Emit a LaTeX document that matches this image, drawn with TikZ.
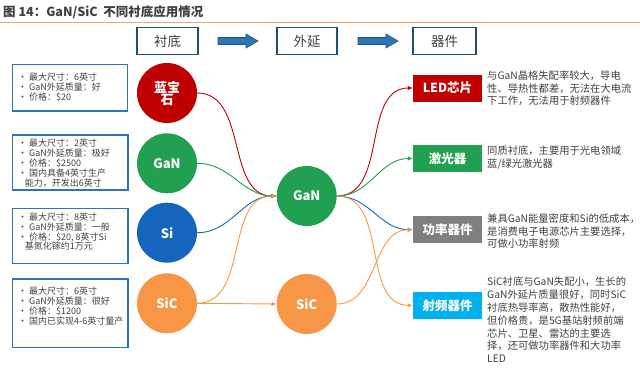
\documentclass[tikz,border=0pt]{standalone}
\usepackage{fontspec}
\setmainfont{Noto Sans CJK SC}
\usetikzlibrary{arrows.meta,calc}
\definecolor{cred}{HTML}{C00000}
\definecolor{cgreen}{HTML}{20A050}
\definecolor{cblue}{HTML}{1565BF}
\definecolor{corange}{HTML}{F79646}
\definecolor{cgrey}{HTML}{7F7F7F}
\definecolor{ccyan}{HTML}{00B0F0}
\definecolor{ctext}{HTML}{404040}
\definecolor{cframe}{HTML}{1F4E79}
\definecolor{cbox}{HTML}{2E75B6}
\definecolor{cline}{HTML}{F0A868}
\definecolor{carrow}{HTML}{2E75B6}
\begin{document}
\begin{tikzpicture}[x=1pt,y=-1pt,
  circ/.style={circle,minimum size=60pt,inner sep=0pt,text=white,font=\bfseries\fontsize{13}{14}\selectfont,align=center},
  hdr/.style={draw=cframe,line width=1.6pt,minimum height=27pt,inner sep=0pt,text=ctext,font=\fontsize{13.5}{14}\selectfont},
  lbox/.style={draw=cbox,line width=1.1pt},
  ltext/.style={anchor=north west,inner sep=0pt,align=left,text=ctext,font=\fontsize{9}{9.9}\selectfont},
  rbox/.style={minimum width=69pt,minimum height=27pt,inner sep=0pt,text=white,font=\bfseries\fontsize{12.5}{14}\selectfont},
  rtext/.style={anchor=north west,inner sep=0pt,align=left,text=ctext,font=\fontsize{10.3}{12.4}\selectfont},
  conn/.style={line width=0.9pt,-{Latex[length=5pt,width=4.5pt]}},
  blockarr/.style={fill=carrow,draw=cframe,line width=0.6pt}
]
\useasboundingbox (0,0) rectangle (640,367);
% title
\node[anchor=west,inner sep=0pt,text=ctext,font=\bfseries\fontsize{12.5}{14}\selectfont] (title) at (3,12) {图 14：GaN/SiC\ \ 不同衬底应用情况};
\coordinate (l1) at (0,22);
\coordinate (l2) at (640,22);
\draw[cline,line width=1pt] (l1) -- (l2);
% headers
\node[hdr,minimum width=61pt] (h1) at (167.5,41) {衬底};
\node[hdr,minimum width=60pt] (h2) at (307,41) {外延};
\node[hdr,minimum width=63pt] (h3) at (444.5,41) {器件};
\coordinate (a1) at (218,41);
\coordinate (a2) at (358,41);
\foreach \c in {a1,a2}{
  \draw[blockarr] ($(\c)+(0,-3.5)$) -- ($(\c)+(28,-3.5)$) -- ($(\c)+(28,-7)$) -- ($(\c)+(40,0)$) -- ($(\c)+(28,7)$) -- ($(\c)+(28,3.5)$) -- ($(\c)+(0,3.5)$) -- cycle;
}
% left boxes
\draw[lbox] (12.7,64.3) rectangle (127.7,111);
\draw[lbox] (12.7,135) rectangle (128,190);
\draw[lbox] (12.7,208.3) rectangle (128,263.3);
\draw[lbox] (12.7,279) rectangle (128,347.7);
\node[ltext] (t1) at (18,73) {• 最大尺寸：6英寸\\• GaN外延质量：好\\• 价格：\$20};
\node[ltext] (t2) at (18,139) {• 最大尺寸：2英寸\\• GaN外延质量：极好\\• 价格：\$2500\\• 国内具备4英寸生产\\\hspace*{0.75em}能力，开发出6英寸};
\node[ltext] (t3) at (18,212.5) {• 最大尺寸：8英寸\\• GaN外延质量：一般\\• 价格：\$20, 8英寸Si\\\hspace*{0.75em}基氮化镓约1万元};
\node[ltext] (t4) at (18,287) {• 最大尺寸：6英寸\\• GaN外延质量：很好\\• 价格：\$1200\\• 国内已实现4-6英寸量产};
% circles
\node[circ,fill=cred] (sap) at (167,93) {蓝宝\\[-2pt]石};
\node[circ,fill=cgreen] (ganl) at (167,163.3) {GaN};
\node[circ,fill=cblue] (si) at (167,232.7) {Si};
\node[circ,fill=corange] (sicl) at (167,303.3) {SiC};
\node[circ,fill=cgreen] (ganm) at (306.7,196) {GaN};
\node[circ,fill=corange] (sicm) at (306.7,304) {SiC};
% right boxes
\node[rbox,fill=cred] (led) at (447.5,88) {LED芯片};
\node[rbox,fill=cgreen] (laser) at (447.5,158.5) {激光器};
\node[rbox,fill=cgrey] (power) at (447.5,229.7) {功率器件};
\node[rbox,fill=ccyan] (rf) at (447.5,305.3) {射频器件};
% right texts
\node[rtext] (d1) at (487,71) {与GaN晶格失配率较大，导电\\性、导热性都差，无法在大电流\\下工作，无法用于射频器件};
\node[rtext] (d2) at (487,146) {同质衬底，主要用于光电领域\\蓝/绿光激光器};
\node[rtext] (d3) at (487,214) {兼具GaN能量密度和Si的低成本，\\是消费电子电源芯片主要选择，\\可做小功率射频};
\node[rtext,font=\fontsize{10.3}{12.8}\selectfont] (d4) at (487,277) {SiC衬底与GaN失配小，生长的\\GaN外延片质量很好，同时SiC\\衬底热导率高，散热性能好，\\但价格贵，是5G基站射频前端\\芯片、卫星、雷达的主要选\\择，还可做功率器件和大功率\\LED};
% connectors into GaN
\draw[conn,cred] (sap.east) to[out=0,in=180] (ganm.west);
\draw[conn,cgreen] (ganl.east) to[out=0,in=180] (ganm.west);
\draw[conn,cblue] (si.east) to[out=0,in=180] (ganm.west);
\draw[conn,corange] (sicl.east) to[out=0,in=180] (ganm.west);
\draw[conn,corange] (sicl.east) -- (sicm.west);
% connectors out of GaN
\draw[conn,cred] (ganm.east) to[out=0,in=180] (led.west);
\draw[conn,cgreen] (ganm.east) to[out=0,in=180] (laser.west);
\draw[conn,cblue] (ganm.east) to[out=0,in=180] (power.west);
\draw[conn,corange] (ganm.east) to[out=0,in=180] (rf.west);
\draw[conn,corange] (sicm.east) to[out=0,in=180] (power.west);
\end{tikzpicture}
\end{document}
